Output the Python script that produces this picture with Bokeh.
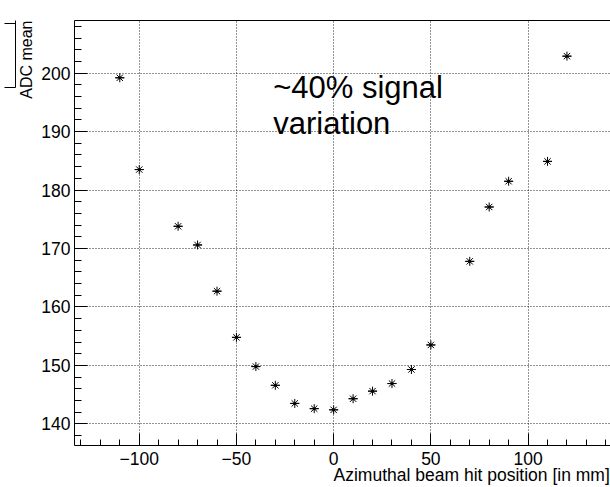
from bokeh.plotting import figure
from bokeh.models import (Range1d, SingleIntervalTicker, Label,
                          LinearAxis, FixedTicker, CustomJSTickFormatter)
from bokeh.embed import file_html
from bokeh.resources import INLINE

# ---- data ----
positions = [-110, -100, -80, -70, -60, -50, -40, -30, -20, -10, 0,
             10, 20, 30, 40, 50, 70, 80, 90, 110, 120]
adc_mean = [199.2, 183.5, 173.8, 170.6, 162.7, 154.8, 149.8, 146.6, 143.5, 142.6, 142.4,
            144.3, 145.6, 146.9, 149.3, 153.5, 167.8, 177.1, 181.5, 184.9, 202.9]
x_title = "Azimuthal beam hit position [in mm]"
y_title = "ADC mean"
note_lines = ["~40% signal", "variation"]

FONT = "Liberation Sans"
FS = "17.5px"
X_RANGE = (-133.3, 142.4)
Y_RANGE = (136.3, 209.0)

p = figure(width=610, height=487, output_backend="svg", toolbar_location=None,
           x_range=Range1d(*X_RANGE), y_range=Range1d(*Y_RANGE),
           min_border_left=74, min_border_right=0, min_border_top=20,
           min_border_bottom=41, x_axis_location="below", y_axis_location="left")
p.background_fill_color = "white"
p.border_fill_color = "white"
p.outline_line_color = None

# main axes
xa = p.xaxis[0]
xa.ticker = SingleIntervalTicker(interval=50, num_minor_ticks=5)
ya = p.yaxis[0]
ya.ticker = SingleIntervalTicker(interval=10, num_minor_ticks=5)
xa.formatter = CustomJSTickFormatter(code="return tick < 0 ? '\u2212' + Math.abs(tick) : String(tick);")
for ax, maj, mnr in ((xa, 12, 6), (ya, 13, 7)):
    ax.axis_line_color = "black"
    ax.axis_line_width = 1
    ax.major_tick_in = maj
    ax.major_tick_out = 0
    ax.minor_tick_in = mnr
    ax.minor_tick_out = 0
    ax.major_tick_line_color = "black"
    ax.minor_tick_line_color = "black"
    ax.major_label_text_font = FONT
    ax.major_label_text_font_size = FS
    ax.major_label_text_color = "black"
    ax.axis_label = None
xa.major_label_standoff = 6
ya.major_label_standoff = 4

blank = CustomJSTickFormatter(code="return '';")


def title_axis(text, anchor, standoff, size, orientation):
    # bare axis whose single tick label is the ROOT-style title, ending at the axis end
    return LinearAxis(ticker=FixedTicker(ticks=[anchor], minor_ticks=[]),
                      axis_line_color=None,
                      major_tick_line_color=None, minor_tick_line_color=None,
                      major_tick_in=0, major_tick_out=0, minor_tick_in=0, minor_tick_out=0,
                      formatter=CustomJSTickFormatter(args=dict(t=text), code="return t;"),
                      major_label_standoff=standoff, major_label_orientation=orientation,
                      major_label_text_font=FONT, major_label_text_font_size=size,
                      major_label_text_color="black", axis_label=None)


p.add_layout(title_axis(x_title, 71.0, -3, FS, "horizontal"), "below")
p.add_layout(title_axis(y_title, 202.3, 3, "16px", "vertical"), "left")

top_axis = LinearAxis(ticker=FixedTicker(ticks=[]), axis_line_color="black",
                      major_tick_line_color=None, minor_tick_line_color=None,
                      formatter=blank, axis_label=None)
p.add_layout(top_axis, "above")

# edge of a cropped stats box at the top-left (drawn as an extra bare axis)
box_axis = LinearAxis(ticker=FixedTicker(ticks=[197.56, 208.53], minor_ticks=[]),
                      bounds=(197.56, 214.0),
                      axis_line_color="black", major_tick_line_color="black",
                      major_tick_in=0, major_tick_out=11, minor_tick_line_color=None,
                      formatter=blank, major_label_text_color=None,
                      major_label_standoff=0, axis_label=None)
p.add_layout(box_axis, "left")

# grid
for g, ax, rng in ((p.xgrid[0], xa, X_RANGE), (p.ygrid[0], ya, Y_RANGE)):
    g.axis = ax
    g.ticker = ax.ticker
    g.bounds = rng
    g.grid_line_color = "black"
    g.grid_line_alpha = 0.85
    g.grid_line_dash = "1 2"
    g.grid_line_width = 1

# markers (ROOT style-3 asterisk)
p.scatter(positions, adc_mean, marker="asterisk", size=9, line_color="black", line_width=1)
p.scatter(positions, adc_mean, marker="dash", size=9, line_color="black", line_width=1)
p.scatter(positions, adc_mean, marker="circle", size=3, fill_color="black", line_color=None)

# annotation text
p.add_layout(Label(x=-31.1, y=197.6, text=note_lines[0], text_font=FONT,
                   text_font_size="31px", text_color="black", text_baseline="alphabetic"))
p.add_layout(Label(x=-31.1, y=191.4, text=note_lines[1], text_font=FONT,
                   text_font_size="31px", text_color="black", text_baseline="alphabetic"))

open("out.html", "w").write(file_html(p, INLINE))
